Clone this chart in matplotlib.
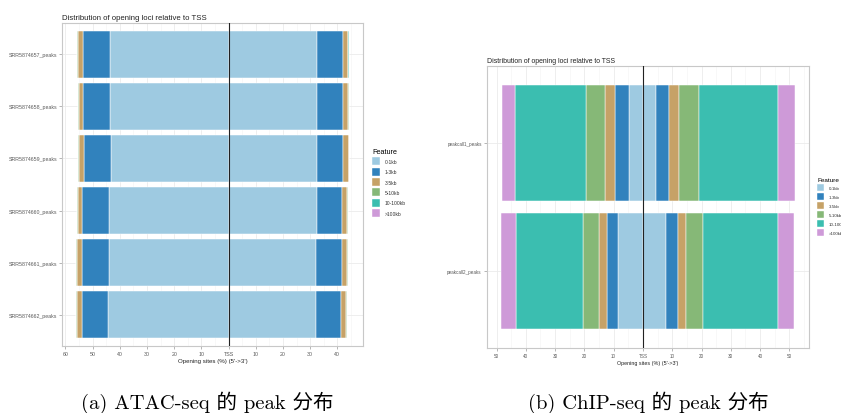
import matplotlib
matplotlib.use('Agg')  # no display here
import matplotlib.pyplot as plt
from matplotlib.patches import Patch
from matplotlib.ticker import MultipleLocator

plt.rcParams['font.family'] = ['Liberation Sans', 'DejaVu Sans']

features = ['0-1kb', '1-3kb', '3-5kb', '5-10kb', '10-100kb', '>100kb']
colors = ['#9ECAE1', '#3182BD', '#C6A267', '#86B877', '#3BBEB0', '#CE9AD8']

# ATAC-seq samples, percent of peaks upstream / downstream of TSS per feature
atac_samples = ['SRR5874657_peaks', 'SRR5874658_peaks', 'SRR5874659_peaks',
                'SRR5874660_peaks', 'SRR5874661_peaks', 'SRR5874662_peaks']
atac_up = [
    [43.6, 10.0, 1.9, 0.2, 0.1, 0.0],
    [43.6, 10.0, 1.5, 0.3, 0.1, 0.0],
    [43.3, 9.9, 1.7, 0.3, 0.1, 0.0],
    [44.0, 9.7, 1.5, 0.4, 0.2, 0.0],
    [44.0, 9.9, 1.95, 0.2, 0.1, 0.0],
    [44.2, 9.8, 1.6, 0.4, 0.2, 0.0],
]
atac_down = [
    [32.4, 9.5, 2.0, 0.15, 0.1, 0.0],
    [32.4, 9.5, 2.0, 0.2, 0.1, 0.0],
    [32.4, 9.6, 2.1, 0.2, 0.1, 0.0],
    [32.6, 9.2, 1.9, 0.2, 0.1, 0.0],
    [32.0, 9.6, 1.95, 0.2, 0.1, 0.0],
    [32.0, 9.45, 1.8, 0.25, 0.1, 0.0],
]

# ChIP-seq peak calls
chip_samples = ['peakcall1_peaks', 'peakcall2_peaks']
chip_up = [
    [4.8, 4.65, 3.6, 6.5, 24.2, 4.55],
    [8.4, 3.75, 2.95, 5.45, 22.9, 4.9],
]
chip_down = [
    [4.3, 4.55, 3.4, 7.05, 26.7, 5.8],
    [7.75, 4.1, 2.7, 5.8, 25.6, 5.8],
]

title = 'Distribution of opening loci relative to TSS'
xlabel = "Opening sites (%) (5'->3')"
captions = ['(a) ATAC-seq 的 peak 分布', '(b) ChIP-seq 的 peak 分布']

W, H = 841, 414
fig = plt.figure(figsize=(W / 100, H / 100), dpi=100)


def draw_panel(rect, samples, up, down, xticks, scale):
    ax = fig.add_axes(rect)
    n = len(samples)
    lo, hi = 0.0, 0.0
    for i, name in enumerate(samples):
        y = n - 1 - i
        left = 0.0
        for val, col in zip(up[i], colors):
            ax.barh(y, -val, left=-left, height=0.9, color=col,
                    edgecolor='white', linewidth=0.35, zorder=2)
            left += val
        right = 0.0
        for val, col in zip(down[i], colors):
            ax.barh(y, val, left=right, height=0.9, color=col,
                    edgecolor='white', linewidth=0.35, zorder=2)
            right += val
        lo = min(lo, -left)
        hi = max(hi, right)
    pad = (hi - lo) * 0.05
    ax.set_xlim(lo - pad, hi + pad)
    ax.set_ylim(-0.6, n - 0.4)
    ax.axvline(0, color='#222222', linewidth=0.8, zorder=3)

    ax.set_xticks(xticks)
    ax.set_xticklabels(['TSS' if t == 0 else str(abs(t)) for t in xticks])
    ax.xaxis.set_minor_locator(MultipleLocator(5))
    ax.set_yticks(range(n))
    ax.set_yticklabels(samples[::-1])

    ax.grid(which='major', color='#EBEBEB', linewidth=0.6, zorder=0)
    ax.grid(which='minor', axis='x', color='#F4F4F4', linewidth=0.4, zorder=0)
    ax.set_axisbelow(True)
    for sp in ax.spines.values():
        sp.set_color('#C8C8C8')
        sp.set_linewidth(0.8)
    ax.tick_params(which='major', length=2, width=0.5, color='#999999',
                   labelcolor='#5A5A5A', labelsize=3.8 * scale, pad=1.5)
    ax.tick_params(which='minor', length=0)
    ax.tick_params(axis='y', labelsize=3.75 * scale)
    ax.set_xlabel(xlabel, fontsize=4.4 * scale, color='#222222', labelpad=1.5)
    ax.set_title(title, fontsize=5.6 * scale, loc='left', color='#222222', pad=3)
    return ax


ax1 = draw_panel([62 / W, 1 - 347 / H, 301 / W, 323 / H],
                 atac_samples, atac_up, atac_down,
                 [-60, -50, -40, -30, -20, -10, 0, 10, 20, 30, 40], 1.0)
ax2 = draw_panel([486.7 / W, 1 - 349.3 / H, 322.6 / W, 282.6 / H],
                 chip_samples, chip_up, chip_down,
                 [-50, -40, -30, -20, -10, 0, 10, 20, 30, 40, 50], 0.88)

handles = [Patch(facecolor=c, edgecolor='white', linewidth=0.3) for c in colors]
legend_spec = [
    # axes, top-left corner in pixels, fontsize, handleheight, labelspacing
    (ax1, (372, 149), 3.6, 2.1, 0.46),
    (ax2, (817, 178), 3.2, 2.05, 0.45),
]
for ax, (x0, y0), fs, hh, ls in legend_spec:
    leg = ax.legend(handles, features, title='Feature', loc='upper left',
                    bbox_to_anchor=(x0 / W, 1 - y0 / H),
                    bbox_transform=fig.transFigure, frameon=False,
                    fontsize=fs, title_fontsize=fs * 1.45, borderpad=0,
                    borderaxespad=0, handlelength=1.5, handleheight=hh,
                    labelspacing=ls, handletextpad=1.1, alignment='left')
    for t in leg.get_texts():
        t.set_color('#333333')

for x, text in zip([207, 648], captions):
    fig.text(x / W, 1 - 403 / H, text, ha='center', va='center', fontsize=14.8,
             family=['cmr10', 'Noto Sans CJK SC'], color='black')

fig.savefig('out.png', dpi=100)
